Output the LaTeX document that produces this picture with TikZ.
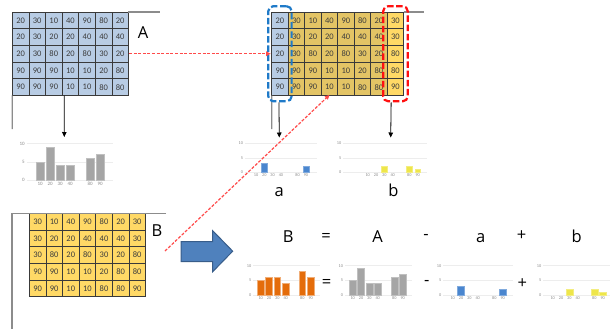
\documentclass[tikz,border=0pt]{standalone}
\usepackage{fontspec}
\setmainfont{Carlito}
\newfontfamily\bigfont{Open Sans}
\usetikzlibrary{arrows.meta,fit,calc}

\definecolor{cellblue}{HTML}{B8CCE4}
\definecolor{cellgold}{HTML}{E3C465}
\definecolor{celllight}{HTML}{FFD966}
\definecolor{cellline}{HTML}{3A3A3A}
\definecolor{celltext}{HTML}{3C3C3C}
\definecolor{gridgray}{HTML}{EDEDED}
\definecolor{axgray}{HTML}{8A8A8A}
\definecolor{bargray}{HTML}{A5A5A5}
\definecolor{barblue}{HTML}{4A86CF}
\definecolor{baryellow}{HTML}{EEE64A}
\definecolor{barorange}{HTML}{E46C0A}
\definecolor{framegray}{HTML}{8C8C8C}
\definecolor{dashblue}{HTML}{1F7AC8}
\definecolor{dashred}{HTML}{FF1010}
\definecolor{dotred}{HTML}{FF4A4A}
\definecolor{arrowfill}{HTML}{4F81BD}
\definecolor{arrowedge}{HTML}{385D8A}

\def\axsize{5pt}

% small histogram: grid from x=#1 to #2, baseline #3, #4 units per count,
% first slot centre #5, slot pitch #6, bar width #7, bar style #8, slot/count pairs #9
\newcommand{\histo}[9]{%
  \foreach \k in {0,5,10}{%
    \draw[gridln] (#1,{#3-\k*#4}) -- (#2,{#3-\k*#4});
    \node[axlbl,anchor=east] at ({#1-1.5},{#3-\k*#4}) {\k};
  }
  \foreach \i/\t in {0/10,1/20,2/30,3/40,5/80,6/90}
    \node[axlbl,anchor=north] at ({#5+\i*#6},{#3+1.2}) {\t};
  \foreach \i/\n in {#9}
    \filldraw[#8] ({#5+\i*#6-#7/2},#3) rectangle ({#5+\i*#6+#7/2},{#3-\n*#4});
}

\tikzset{
  cell/.style={draw=cellline, line width=0.7pt, minimum width=16.55pt,
    minimum height=16.7pt, inner sep=0pt, outer sep=0pt, text=celltext,
    font=\fontsize{8.5}{8.5}\selectfont},
  gridln/.style={draw=gridgray, line width=0.5pt},
  axlbl/.style={text=axgray, inner sep=0.3pt, font=\fontsize{\axsize}{\axsize}\selectfont},
  barA/.style={fill=bargray, draw=bargray!70!white, line width=0.4pt},
  barB/.style={fill=barblue, draw=barblue!70!white, line width=0.4pt},
  barY/.style={fill=baryellow, draw=baryellow!70!white, line width=0.4pt},
  barO/.style={fill=barorange, draw=barorange!55!white, line width=0.5pt},
  frameln/.style={draw=framegray, line width=1.3pt},
  selbox/.style={line width=2.2pt, dash pattern=on 6.5pt off 2.7pt,
    rounded corners=5pt, inner sep=0pt},
  blk/.style={draw=black, line width=0.8pt, -{Triangle[length=5pt,width=4.5pt]}},
  reddot/.style={draw=dotred, line width=1.2pt, dash pattern=on 3pt off 1.6pt,
    -{Triangle[length=4.5pt,width=4.5pt,fill=dotred]}},
  biglbl/.style={inner sep=0pt, font=\bigfont\fontsize{16.5}{16.5}\selectfont},
  bigarrow/.style={fill=arrowfill, draw=arrowedge, line width=1pt, line join=miter},
}

\begin{document}
\begin{tikzpicture}[x=1pt,y=-1pt]
\useasboundingbox (0,0) rectangle (610,329);

% ---- table A ----
\foreach \row [count=\r] in {{20,30,10,40,90,80,20},{20,30,20,20,40,40,40},
    {20,30,80,20,80,30,20},{90,90,90,10,10,20,80},{90,90,90,10,10,80,80}}
  \foreach \v [count=\c] in \row
    \node[cell,fill=cellblue] (A-\r-\c) at ({12.3+(\c-0.5)*16.6},{12+(\r-0.5)*16.7}) {\v};

% ---- merged table ----
\foreach \row [count=\r] in {{20,30,10,40,90,80,20,30},{20,30,20,20,40,40,40,30},
    {20,30,80,20,80,30,20,80},{90,90,90,10,10,20,80,80},{90,90,90,10,10,80,80,90}}
  \foreach \v [count=\c] in \row {
    \ifnum\c=1 \def\cf{cellblue}\else\ifnum\c=8 \def\cf{celllight}\else\def\cf{cellgold}\fi\fi
    \node[cell,fill=\cf] (M-\r-\c) at ({271.7+(\c-0.5)*16.5},{12+(\r-0.5)*16.7}) {\v};
  }

% ---- table B ----
\foreach \row [count=\r] in {{30,10,40,90,80,20,30},{30,20,20,40,40,40,30},
    {30,80,20,80,30,20,80},{90,90,10,10,20,80,80},{90,90,10,10,80,80,90}}
  \foreach \v [count=\c] in \row
    \node[cell,fill=celllight] (B-\r-\c) at ({29.3+(\c-0.5)*16.6},{213.3+(\r-0.5)*16.7}) {\v};

% ---- sheet frames ----
\coordinate (fA-end) at (160,12);
\coordinate (fA-low) at (12.3,129);
\coordinate (fM-end) at (424,12);
\coordinate (fM-low) at (271.7,129);
\coordinate (fB-corner) at (12,213.3);
\coordinate (fB-end) at (166,213.3);
\coordinate (fB-low) at (12,329);
\draw[frameln] (A-1-7.north east) -- (fA-end);
\draw[frameln] (A-5-1.south west) -- (fA-low);
\draw[frameln] (M-1-8.north east) -- (fM-end);
\draw[frameln] (M-5-1.south west) -- (fM-low);
\draw[frameln] (fB-end) -- (fB-corner) -- (fB-low);

% ---- selections ----
\node[selbox, draw=dashblue, fit=(M-1-1)(M-5-1), inner xsep=3.4pt, inner ysep=5.8pt] (selA) {};
\node[selbox, draw=dashred, fit=(M-1-8)(M-5-8), inner xsep=4pt, inner ysep=5.8pt] (selB) {};

% ---- labels ----
\node[biglbl,anchor=base] (labA) at (143,38.3) {A};
\node[biglbl,anchor=base] (labB) at (157,236) {B};
\node[biglbl,anchor=base] (laba) at (279.3,196.7) {a};
\node[biglbl,anchor=base] (labb) at (393.3,196.7) {b};

% ---- histograms ----
\def\axsize{5pt}
\histo{26.7}{113.3}{180.3}{3.66}{40.2}{10}{8.3}{barA}{0/5,1/9,2/4,3/4,5/6,6/7}
\def\axsize{4.3pt}
\histo{245}{316.7}{172.3}{2.9}{256}{8.33}{5.8}{barB}{1/3,6/2}
\histo{343.3}{427.3}{172.3}{2.9}{367.7}{8.33}{5.8}{barY}{2/2,5/2,6/1}
\histo{253.3}{320}{295.3}{2.96}{260.7}{8.33}{6.7}{barO}{0/5,1/6,2/6,3/4,5/8,6/6}
\histo{345}{411.7}{295.3}{2.96}{352.7}{8.33}{6.7}{barA}{0/5,1/9,2/4,3/4,5/6,6/7}
\histo{443.3}{512.7}{295.3}{2.96}{452.7}{8.33}{6.7}{barB}{1/3,6/2}
\histo{543.3}{610}{295.3}{2.96}{552.7}{8.33}{6.7}{barY}{2/2,5/2,6/1}

\coordinate (hA-top) at (64.3,137);
\coordinate (ha-top) at (279.3,137.5);
\coordinate (hb-top) at (390.7,137.5);

% ---- connectors ----
\draw[blk] ([xshift=2.2pt]A-5-4.south west) -- (hA-top);
\draw[blk] ([xshift=-1pt]selA.south) -- (ha-top);
\draw[blk] ([xshift=-4.3pt]selB.south) -- (hb-top);
\draw[reddot] ([xshift=0.5pt]A-3-7.east) -- ([xshift=-1pt]M-3-1.west);
\coordinate (Btail) at (165,251);
\draw[reddot] (Btail) -- ([yshift=0.5pt]M-5-4.south);

% ---- big arrow ----
\draw[bigarrow] (181,241.7) -- (212.7,241.7) -- (212.7,230.7) -- (232.7,251.2)
  -- (212.7,271.7) -- (212.7,261.7) -- (181,261.7) -- cycle;

% ---- equation ----
\node[biglbl,anchor=base] (eqB) at (288.3,242.7) {B};
\node[biglbl] (eqEq) at (326,237.3) {=};
\node[biglbl,anchor=base] (eqA) at (377.7,242.7) {A};
\node[biglbl] (eqMinus) at (426,237.3) {-};
\node[biglbl,anchor=base] (eqa) at (480.7,242.7) {a};
\node[biglbl] (eqPlus) at (521.7,235.5) {+};
\node[biglbl,anchor=base] (eqb) at (576.7,242.7) {b};
\node[biglbl] (opEq) at (326.7,283.3) {=};
\node[biglbl] (opMinus) at (426.7,283.3) {-};
\node[biglbl] (opPlus) at (522.3,283.3) {+};
\end{tikzpicture}
\end{document}
